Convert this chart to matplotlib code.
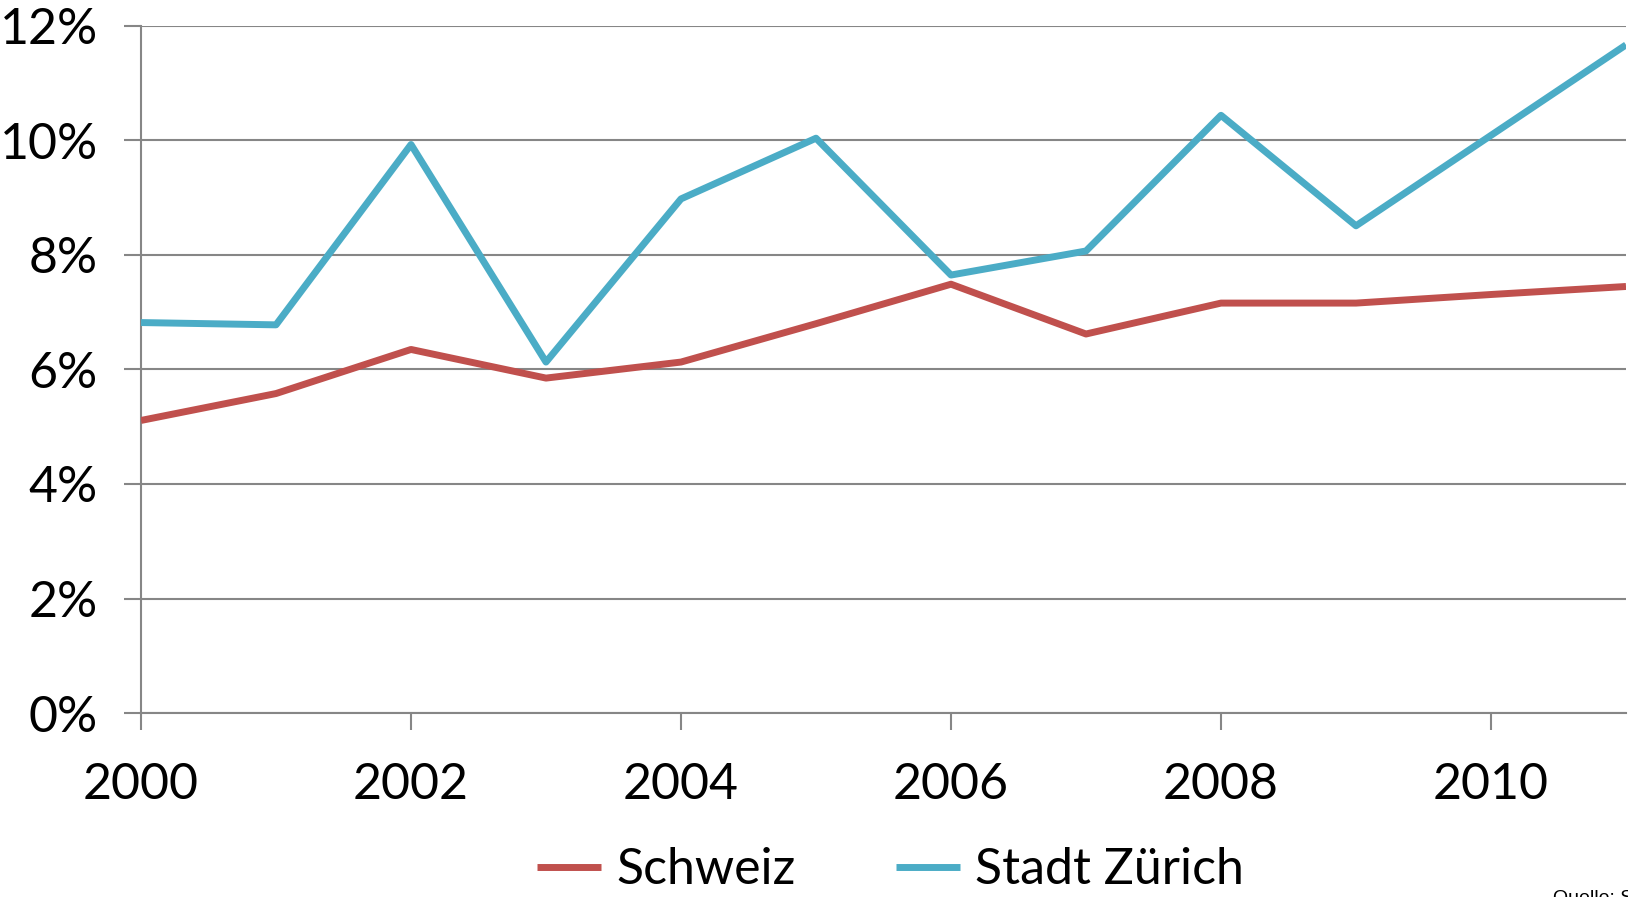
import matplotlib.pyplot as plt
import numpy as np

# Data
years = np.arange(2000, 2012)
schweiz = [5.11, 5.58, 6.35, 5.85, 6.13, 6.80, 7.49, 6.62, 7.16, 7.16, 7.31, 7.45]
zuerich = [6.82, 6.78, 9.93, 6.13, 8.98, 10.04, 7.65, 8.07, 10.44, 8.51, 10.09, 11.67]
yticks = [0, 2, 4, 6, 8, 10, 12]
xticks = [2000, 2002, 2004, 2006, 2008, 2010]

plt.rcParams['font.family'] = ['Lato', 'DejaVu Sans']

fig = plt.figure(figsize=(16.28, 8.97), dpi=100)
ax = fig.add_axes([141 / 1628, 1 - 713 / 897, 1485 / 1628, (713 - 26) / 897])

grid_col = '#868686'
ax.plot(years, schweiz, color='#C0504D', lw=5, label='Schweiz', solid_capstyle='butt', zorder=3)
ax.plot(years, zuerich, color='#4BACC6', lw=5, label='Stadt Zürich', solid_capstyle='butt', zorder=3)

ax.set_xlim(2000, 2011)
ax.set_ylim(0, 12)
ax.set_yticks(yticks)
ax.set_yticklabels([f'{v}%' for v in yticks])
ax.set_xticks(xticks)
ax.set_xticklabels([str(x) for x in xticks])
ax.yaxis.grid(True, color=grid_col, lw=1.5)
ax.set_axisbelow(True)

for s in ['top', 'right']:
    ax.spines[s].set_visible(False)
for s in ['left', 'bottom']:
    ax.spines[s].set_color(grid_col)
    ax.spines[s].set_linewidth(1.5)

ax.tick_params(axis='both', colors=grid_col, length=12, width=1.5, labelcolor='black',
               labelsize=36)
ax.tick_params(axis='y', pad=19)
ax.tick_params(axis='x', pad=23)

fig.legend(loc='center', bbox_to_anchor=(0.547, 0.03), ncol=2, frameon=False,
           fontsize=36, handlelength=1.28, handletextpad=0.3, columnspacing=2.0)

# source note, cut off at the corner like in the original
fig.text(1553 / 1628, 1 - 890 / 897, 'Quelle: Statistik Stadt Zürich', fontsize=14,
         family='Liberation Sans', va='top', ha='left')

fig.savefig('out.png', dpi=100)
